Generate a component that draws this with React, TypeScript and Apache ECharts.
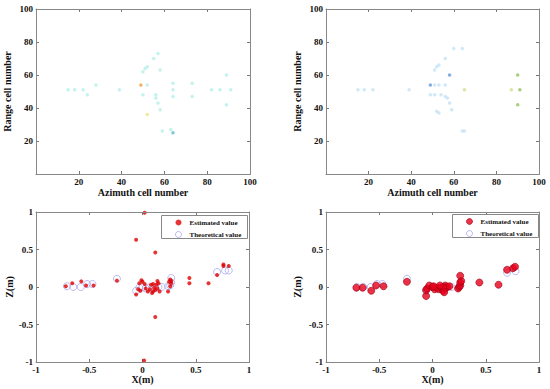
import React, { useEffect, useRef } from "react";
import * as echarts from "echarts";

// ---- Top-left: range-azimuth map (estimated) ----
const tlCyan = [[15,51],[18,51],[22,51],[24,48],[28,54],[39,51],[52,54],[50,48],[50,62],[51,64],[52,65],[55,70],[57,73],[58,63],[56,48],[56,46],[57,43],[58,39],[59,26],[63,27],[64,55],[64,51],[64,47],[73,55],[73,47],[82,51],[86,51],[91,51],[89,60],[89,42]];
const tlOrange = [[49,54]];
const tlYellow = [[52,36]];
const tlTeal = [[64,25]];

// ---- Top-right: range-azimuth map ----
const trBlue = [[15,51],[18,51],[22,51],[39,51],[51,54],[53,54],[56,54],[49,48],[51,48],[54,48],[56,47],[57,46],[56,70],[51,63],[52,65],[53,66],[58,43],[59,39],[52,38],[53,37],[60,76],[64,76],[64,26],[65,26]];
const trDark = [[49,54],[58,60]];
const trGreen = [[90,60],[90,42],[91,51]];
const trYellowGreen = [[87,51],[65,51]];

// ---- Bottom-left: X-Z (estimated vs theoretical) ----
const blEst = [[-0.72,0.01],[-0.66,0.05],[-0.575,0.075],[-0.53,0.02],[-0.46,0.02],[-0.24,0.085],[-0.06,0.63],[0.02,0.99],[0.12,0.46],[0.12,-0.40],[0.015,-0.98],[-0.06,-0.10],
  [-0.01,0.09],[0.0,0.07],[-0.03,0.05],[0.02,0.04],[-0.04,-0.03],[-0.02,-0.05],[0.03,-0.02],[0.05,-0.06],[0.07,-0.03],[0.08,0.03],[0.1,0.04],[0.11,-0.01],[0.12,-0.04],[0.1,-0.06],[0.13,0.03],[0.14,0.08],[0.15,0.05],[0.16,-0.06],[0.14,-0.02],[0.09,-0.08],
  [0.26,0.1],[0.25,0.07],[0.27,0.05],[0.26,0.01],[0.24,-0.06],[0.27,0.08],[0.44,0.12],[0.44,0.05],[0.62,0.05],[0.7,0.16],[0.76,0.30],[0.76,0.28],[0.81,0.28]];
const blTheo = [[-0.71,0.01],[-0.65,0.0],[-0.58,0.0],[-0.52,0.04],[-0.47,0.04],[-0.24,0.11],[-0.06,-0.05],[-0.03,-0.01],[0.0,0.0],[0.03,-0.02],[0.06,-0.01],[0.09,-0.02],[0.12,-0.01],[0.15,0.0],[0.18,0.0],[0.24,0.01],[0.27,0.12],[0.27,0.06],[0.26,0.02],[0.7,0.2],[0.775,0.22],[0.81,0.22]];

// ---- Bottom-right: X-Z (estimated vs theoretical) ----
const brEst = [[-0.715,-0.01],[-0.656,-0.01],[-0.575,-0.05],[-0.53,0.02],[-0.46,0.01],[-0.24,0.07],[-0.06,-0.12],[-0.06,-0.04],
  [-0.05,-0.02],[-0.03,0.02],[0.0,0.0],[0.02,-0.03],[0.04,-0.01],[0.06,-0.03],[0.08,-0.01],[0.1,-0.05],[0.12,-0.02],[0.12,0.02],[0.14,0.0],[0.16,0.01],[0.1,0.0],[0.07,0.02],[0.01,0.01],[0.11,-0.07],
  [0.24,-0.02],[0.25,0.0],[0.26,0.02],[0.26,0.06],[0.27,0.08],[0.26,0.15],[0.44,0.06],[0.62,0.03],[0.70,0.23],[0.756,0.25],[0.775,0.27]];
const brTheo = [[-0.71,0.0],[-0.65,0.0],[-0.58,0.0],[-0.52,0.04],[-0.47,0.04],[-0.24,0.11],[-0.06,-0.05],[0.0,0.0],[0.06,-0.01],[0.12,-0.01],[0.18,0.0],[0.26,0.02],[0.7,0.19],[0.78,0.21]];

const FONT = "'Liberation Serif', 'Times New Roman', serif";
const FRAME = "#888888";

const grids = [
  { left: 36, top: 9, width: 214, height: 165 },
  { left: 326, top: 9, width: 213, height: 165 },
  { left: 36, top: 212, width: 213, height: 150 },
  { left: 326, top: 212, width: 213, height: 150 },
];
const legendBoxes = [
  { left: 161, top: 215, width: 86, height: 23 },
  { left: 452, top: 214, width: 86, height: 23 },
];

function makeAxes(gi: number, kind: "x" | "y", min: number, max: number, interval: number, name: string, nameGap: number, hideMin: boolean) {
  const mkLine = () => ({ show: true, onZero: false, lineStyle: { color: FRAME, width: 1 } });
  const mkTick = () => ({ show: true, inside: true, length: 3, lineStyle: { color: "#777", width: 1 } });
  const main: any = {
    type: "value",
    gridIndex: gi,
    min, max, interval,
    position: kind === "x" ? "bottom" : "left",
    name,
    nameLocation: "middle",
    nameGap,
    nameTextStyle: { fontFamily: FONT, fontWeight: "bold", fontSize: 10, color: "#111" },
    axisLine: mkLine(),
    axisTick: mkTick(),
    splitLine: { show: false },
    axisLabel: {
      fontFamily: FONT, fontWeight: "bold", fontSize: 9, color: "#111", margin: 3,
      formatter: (v: number) => (hideMin && v === min ? "" : String(v)),
    },
  };
  const opp: any = {
    type: "value",
    gridIndex: gi,
    min, max, interval,
    position: kind === "x" ? "top" : "right",
    axisLine: mkLine(),
    axisTick: mkTick(),
    axisLabel: { show: false },
    splitLine: { show: false },
  };
  return [main, opp];
}

export default function App() {
  const ref = useRef<HTMLDivElement>(null);
  useEffect(() => {
    if (!ref.current) return;
    const chart = echarts.init(ref.current, null, { renderer: "svg" });
    const xAxis: any[] = [];
    const yAxis: any[] = [];
    for (let g = 0; g < 2; g++) {
      xAxis.push(...makeAxes(g, "x", 0, 100, 20, "Azimuth cell number", 13, true));
      yAxis.push(...makeAxes(g, "y", 0, 100, 20, "Range cell number", 24, true));
    }
    for (let g = 2; g < 4; g++) {
      xAxis.push(...makeAxes(g, "x", -1, 1, 0.5, "X(m)", 11, false));
      yAxis.push(...makeAxes(g, "y", -1, 1, 0.5, "Z(m)", g === 2 ? 20 : 24, false));
    }
    const sc = (g: number, data: number[][], style: any, size: number, name?: string, z = 2) => ({
      type: "scatter",
      name,
      xAxisIndex: 2 * g,
      yAxisIndex: 2 * g,
      data,
      symbol: "circle",
      symbolSize: size,
      itemStyle: style,
      z,
    });
    const series: any[] = [
      sc(0, tlCyan, { color: "#b4f0ea" }, 3.5),
      sc(0, tlOrange, { color: "#f0a040" }, 3.5),
      sc(0, tlYellow, { color: "#ece488" }, 3.5),
      sc(0, tlTeal, { color: "#60bccc" }, 3.5),
      sc(1, trBlue, { color: "#c4e2f6" }, 3.5),
      sc(1, trDark, { color: "#6a9ad8" }, 3.5),
      sc(1, trGreen, { color: "#94c460" }, 3.5),
      sc(1, trYellowGreen, { color: "#d0e090" }, 3.5),
      sc(2, blTheo, { color: "transparent", borderColor: "#a8a8ee", borderWidth: 1 }, 7, "Theoretical value", 2),
      sc(2, blEst, { color: "#e00000" }, 4, "Estimated value", 3),
      sc(3, brTheo, { color: "transparent", borderColor: "#a8a8ee", borderWidth: 1 }, 7, "Theoretical value", 2),
      sc(3, brEst, { color: "#e8001c", borderColor: "#a00010", borderWidth: 0.8 }, 7, "Estimated value", 3),
    ];
    const mkLegend = (box: any, estStyle: any) => ({
      orient: "vertical",
      left: box.left,
      top: box.top,
      padding: [4, 4, 3, 14],
      itemGap: 5,
      itemWidth: 6,
      itemHeight: 6,
      selectedMode: false,
      z: 10,
      textStyle: { fontFamily: FONT, fontWeight: "bold", fontSize: 7, color: "#111", padding: [0, 0, 0, 3] },
      data: [
        { name: "Estimated value", icon: "circle", itemStyle: estStyle },
        { name: "Theoretical value", icon: "circle", itemStyle: { color: "#ffffff", borderColor: "#a8a8ee", borderWidth: 1 } },
      ],
    });
    const frames = grids.map((g) => ({
      type: "rect",
      z: 50,
      silent: true,
      shape: { x: g.left + 0.5, y: g.top + 0.5, width: g.width, height: g.height },
      style: { fill: "none", stroke: FRAME, lineWidth: 1 },
    }));
    const boxes = legendBoxes.map((b) => ({
      type: "rect",
      z: 1,
      silent: true,
      shape: { x: b.left + 0.5, y: b.top + 0.5, width: b.width, height: b.height },
      style: { fill: "#ffffff", stroke: FRAME, lineWidth: 1 },
    }));
    const option: any = {
      animation: false,
      grid: grids,
      xAxis,
      yAxis,
      series,
      graphic: { elements: [...boxes, ...frames] },
      legend: [
        mkLegend(legendBoxes[0], { color: "#e00000", borderWidth: 0 }),
        mkLegend(legendBoxes[1], { color: "#e8001c", borderColor: "#a00010", borderWidth: 0.8 }),
      ],
    };
    chart.setOption(option);
    return () => chart.dispose();
  }, []);
  return (
    <div
      ref={ref}
      style={{ position: "fixed", left: 0, top: 0, width: 550, height: 389, background: "#fff" }}
    />
  );
}
